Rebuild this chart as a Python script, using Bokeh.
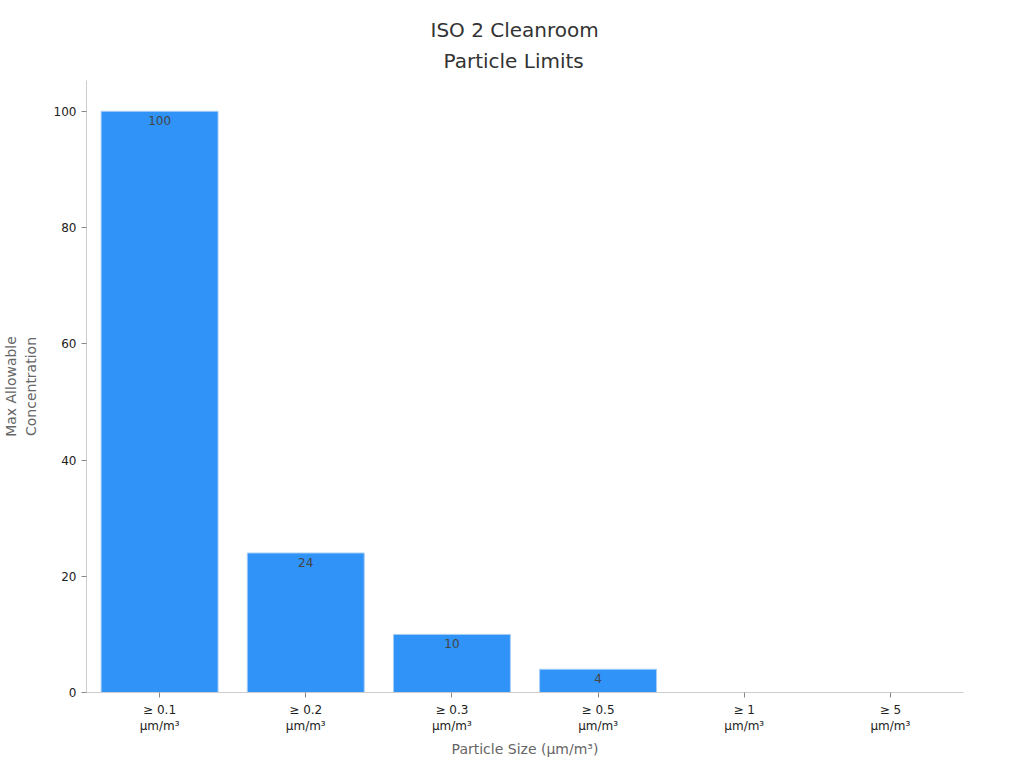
from bokeh.plotting import figure
from bokeh.models import ColumnDataSource, Range1d, FixedTicker, Title
from bokeh.embed import file_html
from bokeh.resources import INLINE
from bokeh.core.properties import value

categories = ["≥ 0.1\nμm/m³", "≥ 0.2\nμm/m³", "≥ 0.3\nμm/m³", "≥ 0.5\nμm/m³", "≥ 1\nμm/m³", "≥ 5\nμm/m³"]
concentrations = [100, 24, 10, 4, 0, 0]
y_ticks = [0, 20, 40, 60, 80, 100]
title_lines = ["ISO 2 Cleanroom", "Particle Limits"]

FONT = "DejaVu Sans"

p = figure(x_range=categories, y_range=Range1d(0, 105.3), width=1016, height=760,
           output_backend="svg", toolbar_location=None,
           title=title_lines[0],
           min_border_left=86, min_border_right=53, min_border_top=80, min_border_bottom=68)

src = ColumnDataSource(dict(x=categories, y=concentrations))
p.vbar(x="x", top="y", width=0.8, source=src, fill_color="#2F93F8",
       line_color="#A5CDF5", line_width=1)

lab_x = [c for c, v in zip(categories, concentrations) if v > 0]
lab_y = [v for v in concentrations if v > 0]
lab_t = [str(v) for v in lab_y]
p.text(x=lab_x, y=lab_y, text=lab_t, text_align="center", text_baseline="top",
       y_offset=5, text_font=value(FONT), text_font_size="12px", text_color="#444444")

def style_title(t):
    t.align = "left"
    t.text_font = FONT
    t.text_font_size = "20px"
    t.text_font_style = "normal"
    t.text_color = "#333333"
    t.text_line_height = 1.0

style_title(p.title)
p.title.offset = 344
p.title.standoff = -4
sub_title = Title(text=title_lines[1])
style_title(sub_title)
sub_title.offset = 357
sub_title.standoff = 15
p.add_layout(sub_title, "above")

p.xgrid.visible = False
p.ygrid.visible = False
p.outline_line_color = None

for ax in (p.xaxis[0], p.yaxis[0]):
    ax.axis_line_color = "#cccccc"
    ax.major_tick_line_color = "#888888"
    ax.major_tick_in = 0
    ax.major_tick_out = 5
    ax.minor_tick_line_color = None
    ax.major_label_text_font = FONT
    ax.major_label_text_font_size = "12px"
    ax.major_label_text_color = "#222222"
    ax.axis_label_text_font = FONT
    ax.axis_label_text_font_size = "14px"
    ax.axis_label_text_font_style = "normal"
    ax.axis_label_text_color = "#666666"

p.yaxis.ticker = FixedTicker(ticks=y_ticks)
p.yaxis.axis_label_standoff = 12
p.xaxis.axis_label = "Particle Size (μm/m³)"
p.yaxis.axis_label = "Max Allowable\nConcentration"
p.x_range.range_padding = 0

open("out.html", "w").write(file_html(p, INLINE))
